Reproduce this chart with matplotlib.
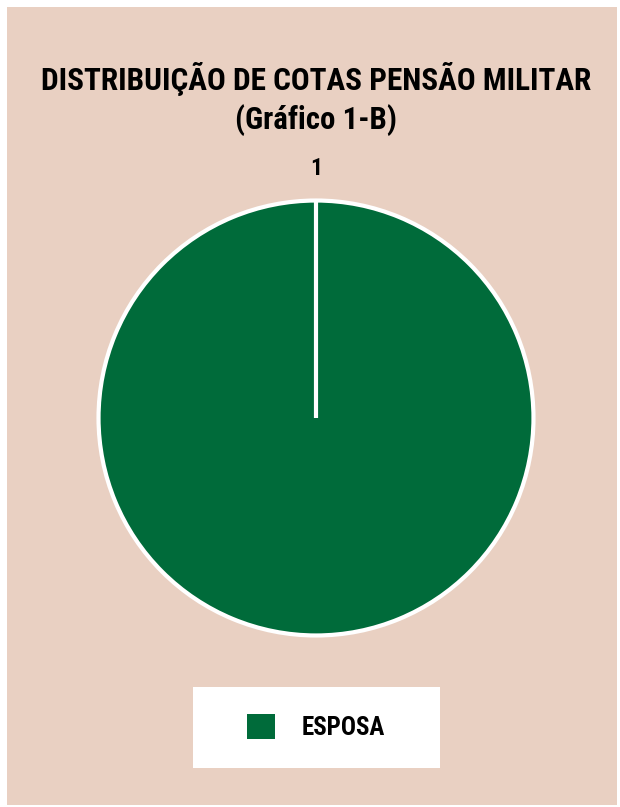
import matplotlib
matplotlib.use('Agg')
import numpy as np
import matplotlib.pyplot as plt
from matplotlib.patches import Rectangle
from matplotlib import font_manager

categories = ['ESPOSA']
cotas = [1]
title_lines = ['DISTRIBUIÇÃO DE COTAS PENSÃO MILITAR', '(Gráfico 1-B)']

green = '#006B3A'
beige = '#E9D0C2'

names = {f.name for f in font_manager.fontManager.ttflist}
family = ['DejaVu Sans']
for cand in ['Liberation Sans Narrow', 'Roboto Condensed', 'Open Sans Condensed',
             'Liberation Sans', 'Roboto']:
    if cand in names:
        family = [cand, 'DejaVu Sans']
        break
plt.rcParams['font.family'] = family

W, H = 620, 807
fig = plt.figure(figsize=(W / 100, H / 100), dpi=100)
fig.patch.set_facecolor('white')
renderer = fig.canvas.get_renderer()


def fit_text(x, y, s, width_px, size, **kw):
    # shrink/grow font so the text spans roughly width_px
    t = fig.text(x, y, s, ha='center', va='center', fontsize=size,
                 fontweight='bold', **kw)
    w = t.get_window_extent(renderer).width
    t.set_fontsize(size * width_px / w)
    return t


# beige panel, white strip on top and left
fig.patches.append(Rectangle((7 / W, 2 / H), 610 / W, 798 / H,
                             transform=fig.transFigure, facecolor=beige,
                             edgecolor='none', zorder=0))

fit_text(316 / W, 1 - 79 / H, title_lines[0], 552, 20)
fit_text(316 / W, 1 - 120 / H, title_lines[1], 162, 18)

# pie
start = 90
ax = fig.add_axes([97 / W, 1 - 637 / H, 438 / W, 438 / H])
ax.set_zorder(3)
wedges, _ = ax.pie(cotas, colors=[green], startangle=start, counterclock=False,
                   wedgeprops=dict(edgecolor='white', linewidth=3))
# a single 100% wedge is drawn as a full circle, add its radial edge
th = np.deg2rad(start)
ax.plot([0, np.cos(th)], [0, np.sin(th)], color='white', lw=3,
        solid_capstyle='butt')
ax.set_xlim(-1.007, 1.007)
ax.set_ylim(-1.007, 1.007)
ax.set_aspect('equal')
ax.axis('off')
ax.text(0, 1.145, str(cotas[0]), ha='center', va='center', fontsize=17,
        fontweight='bold', clip_on=False)

# legend box
fig.patches.append(Rectangle((193 / W, 1 - 768 / H), 247 / W, 81 / H,
                             transform=fig.transFigure, facecolor='white',
                             edgecolor='none', zorder=1))
leg = fig.legend(wedges, categories, loc='center',
                 bbox_to_anchor=(316 / W, 1 - 727 / H), frameon=False,
                 prop=dict(weight='bold', size=18),
                 handlelength=1.12, handleheight=1.12, handletextpad=1.05)
leg.set_zorder(4)
for h in leg.legend_handles:
    h.set_edgecolor('none')

fig.savefig('out.png', dpi=100, facecolor=fig.get_facecolor())
